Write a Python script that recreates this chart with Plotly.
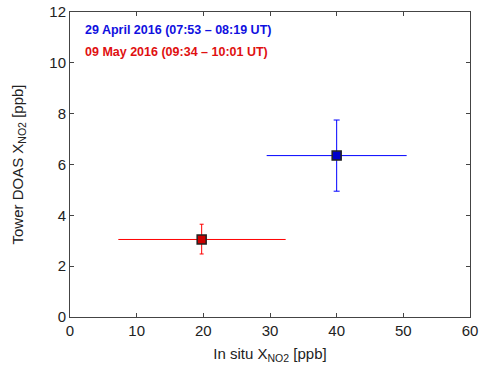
import plotly.graph_objects as go

labels = ["29 April 2016 (07:53 – 08:19 UT)", "09 May 2016 (09:34 – 10:01 UT)"]
x_insitu = [40.0, 19.75]
x_lo = [29.5, 7.25]
x_hi = [50.5, 32.35]
y_doas = [6.35, 3.05]
y_lo = [4.95, 2.48]
y_hi = [7.75, 3.65]
line_colors = ["#0000ff", "#ff0000"]
fill_colors = ["#0000cc", "#cc0000"]
text_colors = ["#1010e0", "#e01010"]
caps = [3, 2]

fig = go.Figure()
for i in range(2):
    fig.add_trace(go.Scatter(
        x=[x_insitu[i]], y=[y_doas[i]], mode="markers",
        marker=dict(symbol="square", size=9, color=fill_colors[i],
                    line=dict(color="#222222", width=1.5)),
        error_x=dict(type="data", symmetric=False,
                     array=[x_hi[i] - x_insitu[i]], arrayminus=[x_insitu[i] - x_lo[i]],
                     color=line_colors[i], thickness=1, width=0),
        error_y=dict(type="data", symmetric=False,
                     array=[y_hi[i] - y_doas[i]], arrayminus=[y_doas[i] - y_lo[i]],
                     color=line_colors[i], thickness=1, width=caps[i]),
        showlegend=False,
    ))

for i, t in enumerate(labels):
    fig.add_annotation(x=0.033, y=[0.94, 0.87][i], xref="paper", yref="paper",
                       text="<b>" + t + "</b>", showarrow=False, xanchor="left",
                       yanchor="middle",
                       font=dict(size=12.5, color=text_colors[i], family="Liberation Sans"))

axis_common = dict(showline=True, linecolor="#444444", linewidth=1, mirror="ticks",
                   ticks="inside", ticklen=4, tickcolor="#444444", showgrid=False,
                   zeroline=False, automargin=False,
                   tickfont=dict(size=15, color="#222222"))
fig.update_xaxes(range=[0, 60], dtick=10,
                 title=dict(text="In situ X<sub>NO2</sub> [ppb]", font=dict(size=15, color="#222222"), standoff=10),
                 **axis_common)
fig.update_yaxes(range=[0, 12], dtick=2,
                 title=dict(text="Tower DOAS X<sub>NO2</sub> [ppb]", font=dict(size=15, color="#222222"), standoff=22),
                 **axis_common)
fig.update_layout(width=481, height=374, margin=dict(l=70, r=11, t=12, b=57),
                  plot_bgcolor="white", paper_bgcolor="white",
                  font=dict(family="Liberation Sans"))
fig.write_html("out.html")
